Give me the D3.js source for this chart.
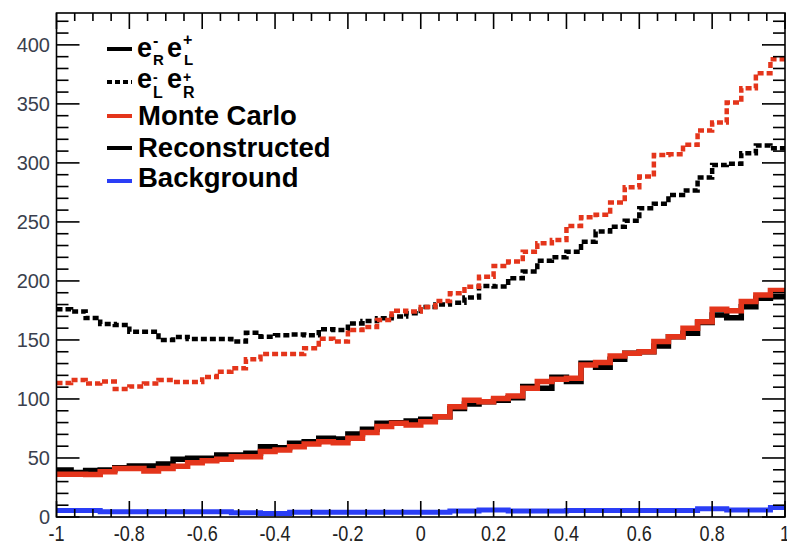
<!DOCTYPE html>
<html>
<head>
<meta charset="utf-8">
<script src="https://cdn.jsdelivr.net/npm/d3@7/dist/d3.min.js"></script>
<style>
  html, body { margin: 0; padding: 0; background: #fff; }
  svg { display: block; font-family: "Liberation Sans", Arial, Helvetica, sans-serif; }
</style>
</head>
<body>
<svg id="chart" width="787" height="545"></svg>
<script>
// Histogram range and binning (50 bins on [-1, 1])
const xRange = [-1, 1];
const nBins = 50;

// e-_R e+_L : reconstructed (black solid) and Monte Carlo (red solid)
const recoRL = [39.8, 37.6, 39.3, 39.8, 41.8, 43.2, 43.2, 45, 48.9, 49.7,
                49.7, 52.5, 52.5, 54, 59.6, 58.7, 62.4, 63.8, 66.7, 66,
                70.3, 74.3, 79.4, 79.9, 81.4, 82.8, 85, 92, 95.8, 97.7,
                99, 101, 110.5, 109, 118.4, 114.7, 130.2, 126.8, 133.6, 138.7,
                140, 144.9, 152.8, 155.6, 164.7, 171.2, 168.9, 178.2, 185.3, 186.7];
const mcRL = [36.2, 36.2, 36, 38.4, 41, 41, 39, 41, 43, 46,
              47.7, 48.9, 51, 51, 55.4, 56.8, 59.6, 61.9, 63.8, 63,
              66.7, 71.5, 76.6, 79.4, 78, 80.8, 85, 93.5, 99, 97.7,
              100.5, 102.5, 109, 114.7, 116.7, 117.5, 128.8, 130.8, 136.4, 138.7,
              140.1, 148.6, 152.8, 159.9, 165.5, 176, 174.8, 182.5, 188.1, 191.8];

// e-_L e+_R : reconstructed (black dotted) and Monte Carlo (red dotted)
const recoLR = [176, 174, 168.5, 163.5, 162.7, 157, 157, 150, 152.5, 150.8,
                150.8, 150.8, 148.6, 156, 152.8, 154, 154.6, 154, 159, 158.5,
                164, 166, 168.4, 169.8, 172.6, 178, 180, 181.6, 186, 195.8,
                195.2, 202.3, 207.9, 217.2, 220, 224.8, 233.3, 241.8, 246, 251,
                261.6, 265.3, 272.9, 276.6, 287.6, 298.3, 299.2, 308.2, 314.7, 312.4];
const mcLR = [113.5, 116, 113, 114.7, 108.5, 110.6, 113, 116, 114.4, 114.4,
              118.6, 123, 126, 133.6, 138, 138, 138, 143, 151, 148.6,
              158.5, 161, 167, 174.8, 174, 178, 183, 189.5, 195, 203.6,
              212.7, 216.4, 224.8, 232, 234.7, 246.6, 254, 256, 266.4, 279.4,
              288.4, 306.8, 307.3, 315.3, 327.4, 334.2, 351.1, 363.3, 376, 387.9];

// Background (blue)
const background = [5.5, 5.5, 5.5, 4.5, 4.5, 4.5, 4.5, 4.5, 4.5, 4.5,
                    4.5, 4.5, 3.5, 3.5, 3, 3, 4, 4, 4, 4,
                    4, 4, 4, 4, 4, 4, 4, 5, 5, 6,
                    6, 5, 5, 5, 5, 5.5, 5.5, 5.5, 5.5, 5.5,
                    5.5, 5.5, 5.5, 5.5, 7, 7, 6, 6, 6, 8];

// Axis ticks and labels
const xTickValues = [-1, -0.8, -0.6, -0.4, -0.2, 0, 0.2, 0.4, 0.6, 0.8, 1];
const xTickLabels = ["-1", "-0.8", "-0.6", "-0.4", "-0.2", "0", "0.2", "0.4", "0.6", "0.8", "1"];
const yTickValues = [0, 50, 100, 150, 200, 250, 300, 350, 400];
const yTickLabels = ["0", "50", "100", "150", "200", "250", "300", "350", "400"];
const yMax = 427;

const colors = { black: "#000000", red: "#e4351b", blue: "#2a3ef6" };

// Frame geometry
const frame = { left: 56.5, right: 785, top: 13, bottom: 517 };

const svg = d3.select("#chart");

const x = d3.scaleLinear().domain(xRange).range([frame.left, frame.right]);
const y = d3.scaleLinear().domain([0, yMax]).range([frame.bottom, frame.top]);

const binWidth = (xRange[1] - xRange[0]) / nBins;
const edges = d3.range(nBins + 1).map(i => xRange[0] + i * binWidth);

// Step path through bin contents
function stepPoints(values) {
  const pts = values.map((v, i) => [edges[i], v]);
  pts.push([edges[nBins], values[nBins - 1]]);
  return pts;
}
const stepLine = d3.line()
  .x(d => x(d[0]))
  .y(d => y(d[1]))
  .curve(d3.curveStepAfter);

const plot = svg.append("g");
plot.append("defs").append("clipPath").attr("id", "frameClip")
  .append("rect")
  .attr("x", frame.left).attr("y", frame.top)
  .attr("width", frame.right - frame.left).attr("height", frame.bottom - frame.top);

const series = [
  { values: background, color: colors.blue, dash: null, width: 5 },
  { values: recoLR, color: colors.black, dash: "6,3", width: 4.5 },
  { values: mcLR, color: colors.red, dash: "6,3", width: 4.5 },
  { values: recoRL, color: colors.black, dash: null, width: 5.5 },
  { values: mcRL, color: colors.red, dash: null, width: 5.5 }
];

const lines = plot.append("g").attr("clip-path", "url(#frameClip)");
series.forEach(s => {
  lines.append("path")
    .datum(stepPoints(s.values))
    .attr("d", stepLine)
    .attr("fill", "none")
    .attr("stroke", s.color)
    .attr("stroke-width", s.width)
    .attr("stroke-dasharray", s.dash)
    .attr("stroke-linejoin", "miter")
    .attr("stroke-linecap", "butt");
});

// Frame and ticks
const axes = svg.append("g").attr("stroke", "#000").attr("stroke-width", 1.6);
axes.append("rect")
  .attr("x", frame.left).attr("y", frame.top)
  .attr("width", frame.right - frame.left).attr("height", frame.bottom - frame.top)
  .attr("fill", "none");

const xMinor = d3.range(0, 41).map(i => xRange[0] + i * 0.05);
const yMinor = d3.range(0, yMax + 0.001, 10);
const xMajLen = 16, xMinLen = 8, yMajLen = 23, yMinLen = 12;

xMinor.forEach(v => {
  const major = xTickValues.some(t => Math.abs(t - v) < 1e-9);
  const len = major ? xMajLen : xMinLen;
  axes.append("line").attr("x1", x(v)).attr("x2", x(v))
    .attr("y1", frame.bottom).attr("y2", frame.bottom - len);
  axes.append("line").attr("x1", x(v)).attr("x2", x(v))
    .attr("y1", frame.top).attr("y2", frame.top + len);
});
yMinor.forEach(v => {
  const major = yTickValues.includes(v);
  const len = major ? yMajLen : yMinLen;
  axes.append("line").attr("x1", frame.left).attr("x2", frame.left + len)
    .attr("y1", y(v)).attr("y2", y(v));
  axes.append("line").attr("x1", frame.right).attr("x2", frame.right - len)
    .attr("y1", y(v)).attr("y2", y(v));
});

// Tick labels
svg.append("g").selectAll("text").data(yTickValues).join("text")
  .attr("x", 50).attr("y", d => y(d))
  .attr("dy", "0.36em")
  .attr("text-anchor", "end")
  .attr("font-size", 20)
  .attr("fill", "#3a3f4e")
  .text((d, i) => yTickLabels[i]);

// The last label sits on the window's right edge
svg.append("g").selectAll("text").data(xTickValues).join("text")
  .attr("transform", (d, i) => `translate(${i === xTickValues.length - 1 ? 780 : x(d)},541) scale(0.82,1)`)
  .attr("text-anchor", (d, i) => i === xTickValues.length - 1 ? "start" : "middle")
  .attr("font-size", 22)
  .attr("fill", "#222")
  .text((d, i) => xTickLabels[i]);

// Legend
const legend = svg.append("g");
const legendRows = [
  { color: colors.black, dash: null, cy: 49 },
  { color: colors.black, dash: "5,3", cy: 82 },
  { color: colors.red, dash: null, cy: 116 },
  { color: colors.black, dash: null, cy: 148 },
  { color: colors.blue, dash: null, cy: 181 }
];
legendRows.forEach(r => {
  legend.append("line")
    .attr("x1", 107).attr("x2", 132)
    .attr("y1", r.cy).attr("y2", r.cy)
    .attr("stroke", r.color).attr("stroke-width", 4)
    .attr("stroke-dasharray", r.dash);
});

function legendText(str, xPos, yPos, size) {
  legend.append("text").attr("x", xPos).attr("y", yPos)
    .attr("font-size", size).attr("font-weight", "bold").attr("fill", "#000")
    .text(str);
}
// e-_R e+_L
legendText("e", 137, 57, 27);
legendText("-", 153, 46, 16);
legendText("R", 153, 65, 15);
legendText("e", 167, 57, 27);
legendText("+", 183, 45, 16);
legendText("L", 184, 65, 15);
// e-_L e+_R
legendText("e", 137, 88, 27);
legendText("-", 153, 82, 14);
legendText("L", 153, 98, 16);
legendText("e", 167, 88, 27);
legendText("+", 183, 82, 14);
legendText("R", 183, 98, 16);
// Text rows
legendText("Monte Carlo", 138, 125, 27.5);
legendText("Reconstructed", 138, 157, 27.5);
legendText("Background", 138, 187, 27.5);
</script>
</body>
</html>
